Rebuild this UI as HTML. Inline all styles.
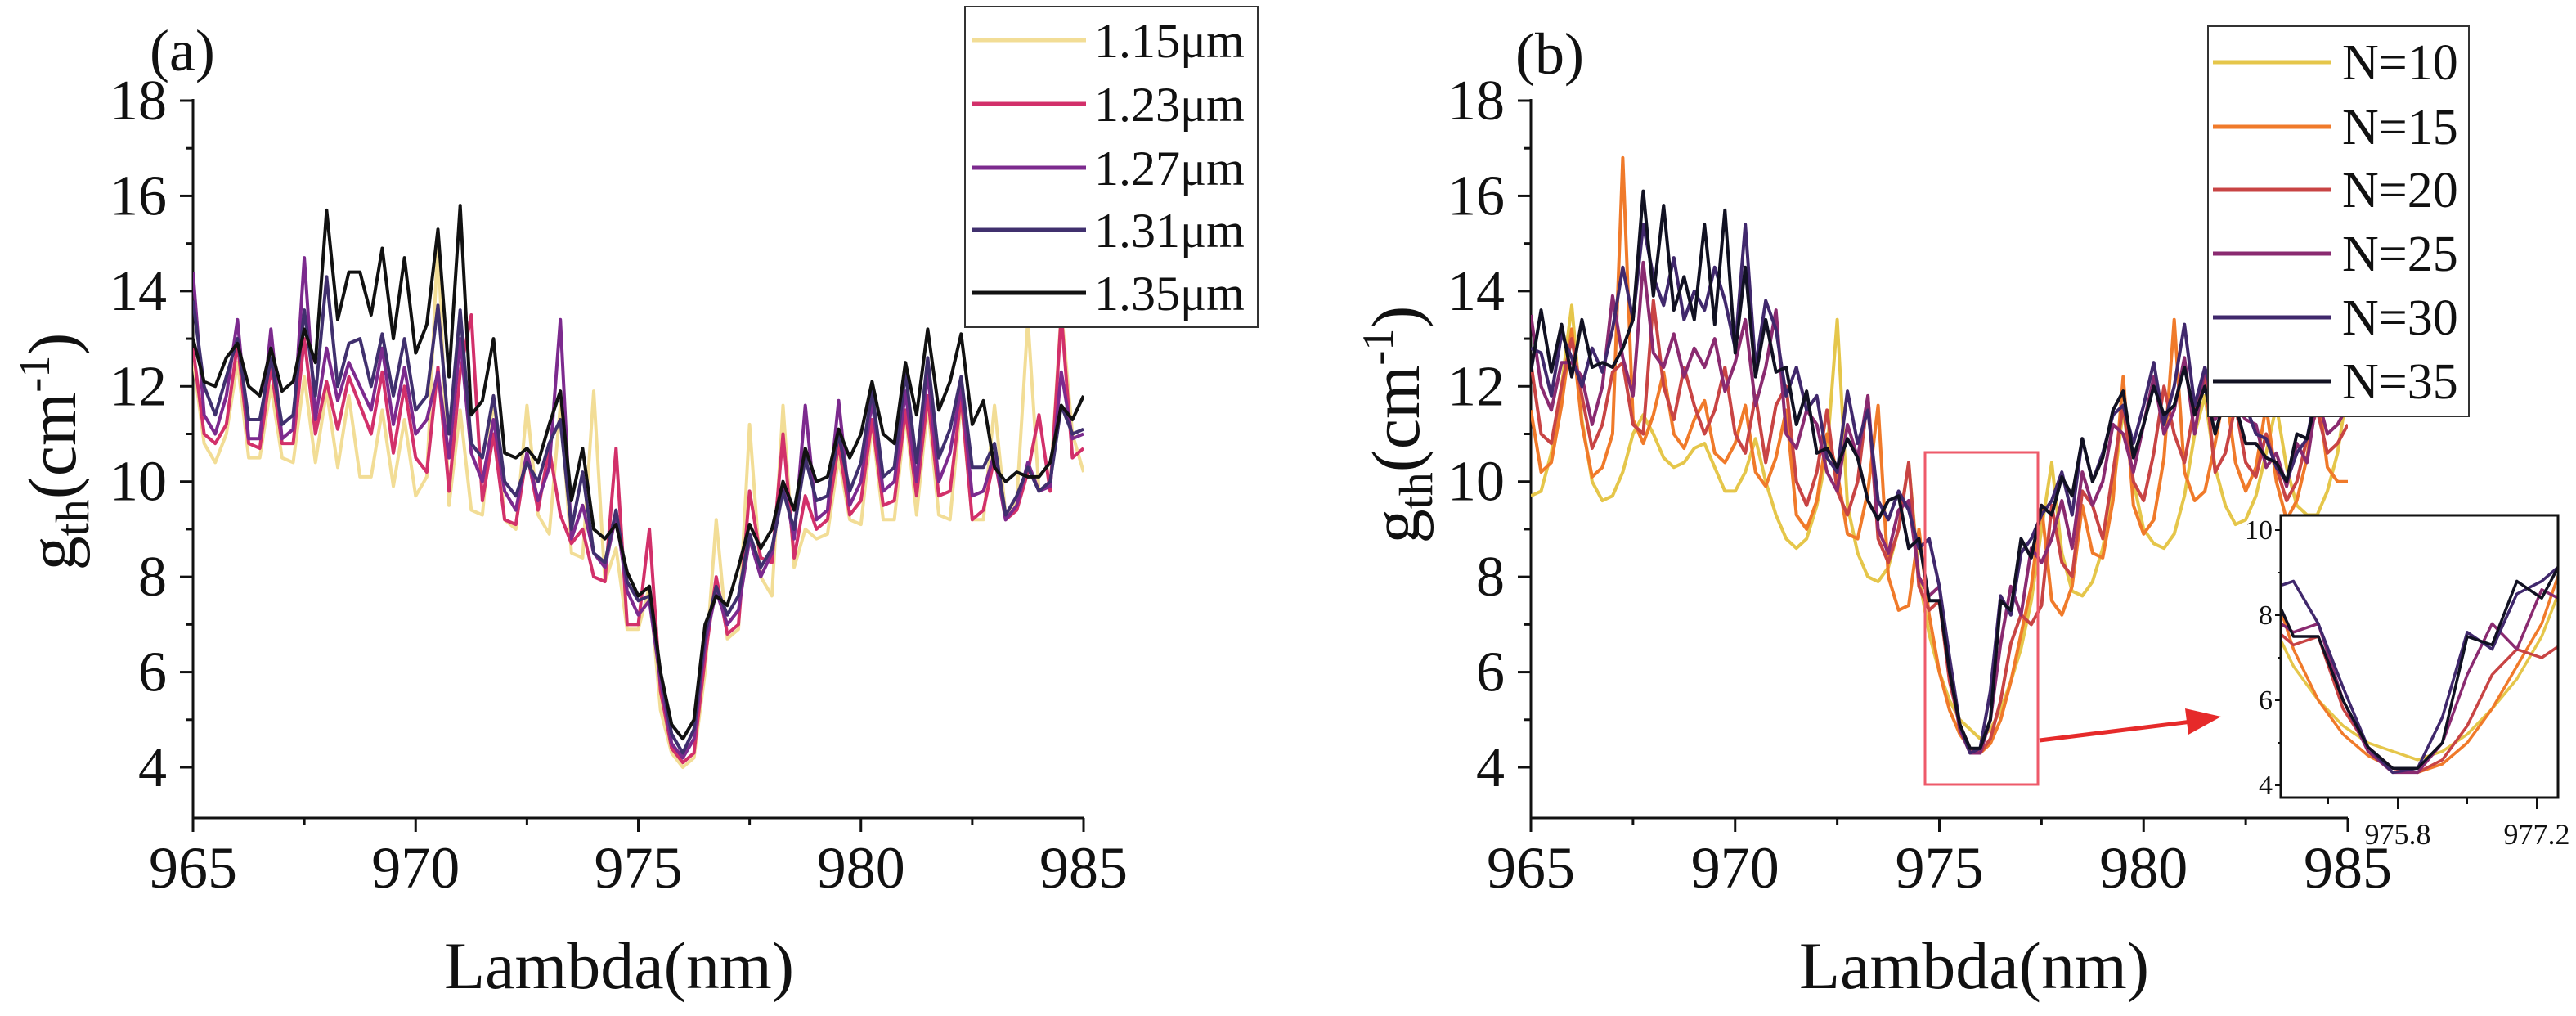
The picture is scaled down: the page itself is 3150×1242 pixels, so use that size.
<!DOCTYPE html>
<html><head><meta charset="utf-8"><style>
html,body{margin:0;padding:0;background:#fff}
svg{display:block}
text{font-family:"Liberation Serif",serif;fill:#111}
</style></head><body>
<svg id="c" width="3150" height="1242" viewBox="0 0 3150 1242" xmlns="http://www.w3.org/2000/svg"></svg>
<script>
const NS="http://www.w3.org/2000/svg";
const lambdaStart=965, lambdaStep=0.25;
const seriesALabels=["1.15μm","1.23μm","1.27μm","1.31μm","1.35μm"];
const seriesAColors=["#f2dd96","#d2306a","#7c2a8e","#40306e","#111111"];
const a115=[12.6,10.8,10.4,11.0,12.5,10.5,10.5,12.0,10.5,10.4,12.2,10.4,11.9,10.3,11.8,10.1,10.1,11.5,9.9,11.3,9.7,10.1,15.1,9.5,11.5,9.4,9.3,11.8,9.2,9.0,11.6,9.3,8.9,11.6,8.5,8.4,11.9,7.9,8.6,6.9,6.9,7.8,5.2,4.3,4.0,4.2,6.0,9.2,6.7,6.9,11.2,8.0,7.6,11.6,8.2,9.0,8.8,8.9,10.5,9.2,9.1,11.2,9.2,9.2,11.4,9.3,11.6,9.3,9.2,11.7,9.2,9.2,11.6,9.3,9.6,13.4,9.8,9.9,13.6,11.0,10.2];
const a123=[12.8,11.0,10.8,11.2,12.9,10.8,10.7,12.4,10.8,10.8,13.0,11.0,12.1,11.1,12.2,11.6,11.0,12.3,10.6,12.0,10.5,10.2,12.4,9.8,12.3,13.5,9.6,11.0,9.2,9.1,10.6,9.4,10.7,9.3,8.7,9.0,8.0,7.9,10.7,7.0,7.0,9.0,5.6,4.4,4.1,4.3,6.3,8.0,6.8,7.0,9.8,8.4,8.3,11.0,8.4,9.7,9.0,9.2,10.8,9.3,9.6,11.3,9.5,9.6,11.5,9.7,11.8,9.7,9.8,11.8,9.2,9.4,10.5,9.2,9.4,10.2,11.4,9.8,13.5,10.5,10.7];
const a127=[14.4,11.4,11.0,11.8,13.4,10.9,10.9,13.2,10.9,11.1,14.7,11.3,12.8,11.7,12.5,12.0,11.5,12.8,11.2,12.4,11.0,11.3,12.3,10.5,13.0,10.6,10.0,11.3,9.8,9.4,10.6,9.6,10.3,13.4,8.8,9.5,8.5,8.2,9.3,7.7,7.2,7.5,5.8,4.5,4.2,4.6,6.6,7.7,7.0,7.3,8.8,8.0,8.5,10.0,8.8,11.6,9.2,9.4,11.7,9.5,10.0,11.7,9.8,10.0,11.9,10.0,12.3,10.0,10.6,12.0,9.7,9.8,10.6,9.2,9.5,10.4,9.8,9.9,12.3,10.9,11.0];
const a131=[13.8,12.0,11.4,12.2,13.0,11.3,11.3,12.6,11.2,11.4,13.6,11.8,14.3,12.0,12.9,13.0,12.0,13.1,11.8,13.0,11.5,11.8,13.7,11.0,13.6,10.8,10.5,11.8,10.0,9.7,10.4,10.0,10.8,11.3,9.0,10.2,8.5,8.3,9.4,7.9,7.5,7.6,6.0,4.7,4.3,4.8,6.8,7.8,7.2,7.6,8.9,8.2,8.6,9.8,9.0,10.5,9.6,9.7,11.0,9.8,10.4,11.9,10.1,10.3,12.3,10.4,12.6,10.5,11.1,12.2,10.3,10.3,10.8,9.3,9.7,10.3,9.8,10.0,11.6,11.0,11.1];
const a135=[13,12.1,12.0,12.6,12.9,12.0,11.8,12.8,11.9,12.1,13.2,12.5,15.7,13.4,14.4,14.4,13.5,14.9,13.0,14.7,12.7,13.3,15.3,12.2,15.8,11.4,11.7,13.0,10.6,10.5,10.7,10.4,11.2,11.9,9.6,10.7,9.0,8.8,9.1,8.1,7.6,7.8,6.0,4.9,4.6,5.0,7.0,7.6,7.4,8.2,9.1,8.6,9.0,10.0,9.4,10.7,10.0,10.1,11.1,10.5,11.0,12.1,11.0,10.8,12.5,11.4,13.2,11.5,12.1,13.1,11.2,11.7,10.3,10.0,10.2,10.1,10.1,10.4,11.6,11.3,11.8];
const seriesBLabels=["N=10","N=15","N=20","N=25","N=30","N=35"];
const seriesBColors=["#e5c64a","#f07a2a","#c84444","#8a2a70","#40286c","#111122"];
const n10=[9.7,9.8,10.6,12.0,13.7,11.3,10.0,9.6,9.7,10.2,11.0,11.4,11.0,10.5,10.3,10.4,10.7,10.8,10.3,9.8,9.8,10.2,10.9,10.0,9.3,8.8,8.6,8.8,9.5,10.6,13.4,9.5,8.5,8.0,7.9,8.2,9.0,10.4,8.0,6.8,6.0,5.4,5.0,4.8,4.6,4.8,5.2,5.8,6.5,7.5,9.0,10.4,8.5,7.7,7.6,7.9,8.6,9.8,11.5,10.0,9.0,8.7,8.6,8.9,9.7,11.0,11.8,10.3,9.5,9.1,9.2,9.7,10.6,11.6,10.3,9.5,9.3,9.3,9.8,10.6,12.0];
const n15=[11.5,10.2,10.4,11.6,13.2,11.2,10.1,10.3,11.0,16.8,11.3,10.8,11.4,12.3,11.0,10.7,11.3,11.7,10.6,10.4,10.8,11.6,10.2,9.9,10.5,11.5,9.3,9.0,9.6,11.0,10.2,8.9,8.8,9.8,11.6,8.0,7.3,7.4,9.0,7.2,6.0,5.2,4.7,4.4,4.3,4.5,5.0,5.8,6.8,7.8,9.5,7.5,7.2,7.8,9.5,8.5,8.4,9.6,12.2,9.5,8.9,9.2,10.5,13.4,10.2,9.6,9.8,10.8,12.0,10.4,9.8,10.3,11.6,10.0,9.2,9.6,10.5,12.0,10.3,10.0,10.0];
const n20=[12.5,11.0,10.8,12.0,13.0,11.8,10.7,11.2,12.3,12.5,11.2,11.0,13.8,12.0,11.3,12.4,11.6,11.0,11.5,12.4,11.0,10.6,11.8,10.4,11.6,12.0,10.0,9.5,10.2,11.5,9.8,9.3,10.0,11.8,8.8,8.3,9.0,10.4,7.8,7.3,7.5,5.8,4.9,4.4,4.3,4.6,5.4,6.6,7.2,7.0,7.4,9.5,8.3,8.0,9.8,9.5,8.8,10.2,11.6,10.0,9.6,10.6,12.0,11.0,10.4,11.6,12.2,10.2,10.6,11.6,10.4,10.1,11.0,10.3,9.6,10.0,10.9,11.5,10.6,10.8,11.2];
const n25=[13.5,12.0,11.5,12.5,12.5,12.2,11.2,12.0,13.9,12.6,11.8,14.6,12.7,12.4,13.1,12.2,12.8,12.4,13.0,11.9,12.5,13.4,11.6,12.4,13.6,11.0,10.7,11.5,11.2,10.2,9.8,11.2,10.5,11.8,9.0,8.5,9.4,9.6,8.0,7.6,7.8,6.0,4.8,4.3,4.3,5.0,6.6,7.8,7.2,8.6,8.3,8.8,9.6,8.6,10.2,9.5,10.0,11.2,11.0,10.2,11.2,12.2,11.0,11.5,12.6,11.0,12.4,11.3,11.8,11.6,11.3,11.2,10.3,10.6,9.9,10.8,10.4,11.8,11.0,11.2,11.6];
const n30=[12.8,12.7,11.8,13.1,12.6,12.0,12.8,12.3,13.2,14.5,13.4,15.4,14.3,13.7,14.7,13.4,14.0,13.6,14.5,13.8,12.8,15.4,12.4,13.8,13.2,11.8,12.4,11.5,11.8,10.5,10.2,11.9,10.8,11.5,9.6,9.2,9.8,9.4,8.6,8.8,7.8,6.3,4.9,4.3,4.4,5.6,7.6,7.2,8.5,8.8,9.3,9.6,10.2,9.3,10.9,10.0,10.6,11.4,11.6,10.8,11.6,12.5,11.2,12.0,13.3,11.6,12.4,11.6,11.9,11.8,11.6,11.0,10.9,10.3,10.0,10.6,10.9,12.0,11.4,12.2,12.3];
const n35=[12.3,13.6,12.3,13.3,12.2,13.4,12.4,12.5,12.4,12.8,13.4,16.1,13.9,15.8,13.6,14.3,13.4,15.4,13.3,15.7,12.7,14.5,12.2,13.4,12.3,12.4,11.2,11.9,10.6,10.7,10.3,10.9,10.5,9.6,9.2,9.6,9.7,8.6,8.8,7.5,7.5,6.0,4.9,4.4,4.4,5.0,7.5,7.3,8.8,8.4,9.5,9.3,10.1,9.7,10.9,10.0,10.5,11.5,11.9,10.5,11.2,12.0,11.4,11.6,12.4,11.4,12.0,11.0,11.8,11.6,10.8,10.8,10.5,10.4,10.0,11.0,10.9,11.8,12.0,12.2,12.4];
const yTicks=[4,6,8,10,12,14,16,18];
const xTicks=[965,970,975,980,985];
const insetYTicks=[4,6,8,10];
const insetXTicks=[975.8,977.2];

const svg=document.getElementById('c');
function el(tag,attrs,parent){const e=document.createElementNS(NS,tag);for(const k in attrs)e.setAttribute(k,attrs[k]);(parent||svg).appendChild(e);return e;}
function lin(d0,d1,r0,r1){return v=>r0+(v-d0)*(r1-r0)/(d1-d0);}

function panel(opt){
  const g=el('g',{});
  
  
  const X=lin(965,985,opt.x0,opt.x1), Y=lin(4,18,938,123);
  const ax=el('path',{d:`M${opt.x0},121 V1000 H${opt.x1}`,stroke:'#111',fill:'none','stroke-width':3},g);
  
  for(let v=4;v<=18;v++){const y=Y(v);el('line',{x1:opt.x0-(v%2==0?16:9),x2:opt.x0,y1:y,y2:y,stroke:'#111','stroke-width':3},g);}
  for(let v=965;v<=985;v+=2.5){const x=X(v);el('line',{x1:x,x2:x,y1:1000,y2:1000+(v%5==0?17:9),stroke:'#111','stroke-width':3},g);}
  yTicks.forEach(v=>{const t=el('text',{x:opt.x0-32,y:Y(v)+23,'font-size':70,'text-anchor':'end'},g);t.textContent=v;
    });
  xTicks.forEach(v=>{const t=el('text',{x:X(v),y:1085,'font-size':72,'text-anchor':'middle'},g);t.textContent=v;
    });
  const xt=el('text',{x:opt.xTitleX,y:1208,'font-size':82,'text-anchor':'middle'},g);xt.textContent='Lambda(nm)';
  
  const yt=el('text',{transform:`translate(${opt.yTitleX},${opt.yTitleY}) rotate(-90)`,'font-size':84,'text-anchor':'middle'},g);
  yt.innerHTML='g<tspan font-size="58" dy="16">th</tspan><tspan dy="-16">(cm</tspan><tspan font-size="54" dy="-32">-1</tspan><tspan dy="32">)</tspan>';
  
  const pl=el('text',{x:opt.labelX,y:opt.labelY,'font-size':72},g);pl.textContent=opt.label;
  
  const clipId='clip'+opt.label.replace(/\W/g,'');
  const cp=el('clipPath',{id:clipId},g);el('rect',{x:opt.x0,y:100,width:opt.x1-opt.x0,height:900},cp);
  const sg=el('g',{'clip-path':`url(#${clipId})`},g);
  opt.series.forEach((s,i)=>{
    const d=s.map((v,j)=>(j?'L':'M')+X(lambdaStart+j*lambdaStep).toFixed(1)+','+Y(v).toFixed(1)).join(' ');
    const p=el('path',{d,stroke:opt.colors[i],'stroke-width':4,fill:'none','stroke-linejoin':'round'},sg);
    
    
  });
  return {X,Y,g};
}

panel({name:'panel-a',x0:236,x1:1325,label:'(a)',labelX:183,labelY:86,xTitleX:757,yTitleX:92,yTitleY:552,series:[a115,a123,a127,a131,a135],colors:seriesAColors,labels:seriesALabels});
panel({name:'panel-b',x0:1872,x1:2871,label:'(b)',labelX:1853,labelY:90,xTitleX:2414,yTitleX:1735,yTitleY:519,series:[n10,n15,n20,n25,n30,n35],colors:seriesBColors,labels:seriesBLabels});

function legend(name,bx,by,bw,bh,rowY,lx0,lx1,tx,fs,labels,colors){
  const g=el('g',{});
  
  
  el('rect',{x:bx,y:by,width:bw,height:bh,fill:'#fff',stroke:'#333','stroke-width':2},g);
  labels.forEach((l,i)=>{
    const y=rowY[i];
    const e=el('g',{},g);
    
    
    el('line',{x1:lx0,x2:lx1,y1:y,y2:y,stroke:colors[i],'stroke-width':5},e);
    const t=el('text',{x:tx,y:y+21,'font-size':fs},e);t.textContent=l;
  });
}
legend('legend-a',1180,8,358,392,[49,127,205,281,358],1188,1328,1338,60,seriesALabels,seriesAColors);
legend('legend-b',2700,32,319,477,[76,155,232,310,388,466],2706,2851,2864,62,seriesBLabels,seriesBColors);

const rb=el('rect',{x:2354,y:553,width:138,height:406,fill:'none',stroke:'#ee5a6a','stroke-width':3});

const ar=el('line',{x1:2494,y1:905,x2:2680,y2:882,stroke:'#e62a2a','stroke-width':5});

const ah=el('polygon',{points:'2716,876 2672,866 2676,898',fill:'#e62a2a'});


(function(){
  const ix0=2789,ix1=3128,iy0=630,iy1=975;
  const IX=lin(975.8,977.2,2932,3102), IY=lin(4,10,960,648);
  const g=el('g',{});
  
  
  el('rect',{x:ix0,y:iy0,width:ix1-ix0,height:iy1-iy0,fill:'#fff'},g);
  const cp=el('clipPath',{id:'clipInset'},g);
  el('rect',{x:ix0,y:iy0,width:ix1-ix0,height:iy1-iy0},cp);
  const sg=el('g',{'clip-path':'url(#clipInset)'},g);
  [n10,n15,n20,n25,n30,n35].forEach((s,i)=>{
    const d=s.map((v,j)=>(j?'L':'M')+IX(lambdaStart+j*lambdaStep).toFixed(1)+','+IY(v).toFixed(1)).join(' ');
    const p=el('path',{d,stroke:seriesBColors[i],'stroke-width':3.5,fill:'none','stroke-linejoin':'round'},sg);
    
    
  });
  el('rect',{x:ix0,y:iy0,width:ix1-ix0,height:iy1-iy0,fill:'none',stroke:'#111','stroke-width':3},g);
  for(let v=4;v<=10;v++){el('line',{x1:ix0-(v%2==0?7:4),x2:ix0,y1:IY(v),y2:IY(v),stroke:'#111','stroke-width':2},g);}
  insetYTicks.forEach(v=>{const t=el('text',{x:ix0-10,y:IY(v)+11,'font-size':34,'text-anchor':'end'},g);t.textContent=v;
    });
  for(let k=0;k<4;k++){const v=975.1+0.7*k;const x=IX(v);el('line',{x1:x,x2:x,y1:iy1,y2:iy1+(k%2==1?14:8),stroke:'#111','stroke-width':2},g);}
  insetXTicks.forEach(v=>{const t=el('text',{x:IX(v),y:1032,'font-size':36,'text-anchor':'middle'},g);t.textContent=v;
    });
})();
</script>
</body></html>
